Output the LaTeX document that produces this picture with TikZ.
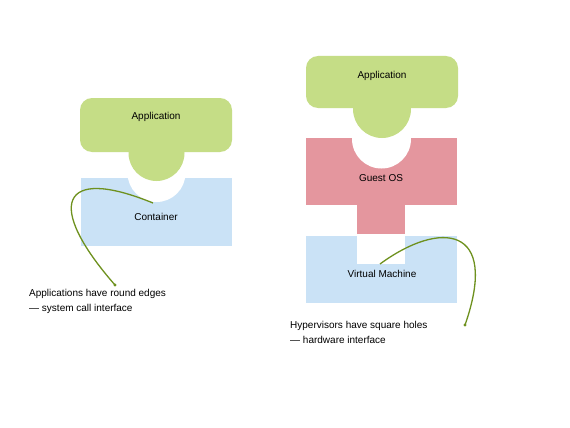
\documentclass[tikz,border=0pt]{standalone}
\usepackage{fontspec}
\setmainfont{Liberation Sans}
\definecolor{appgreen}{RGB}{197,221,134}
\definecolor{osred}{RGB}{228,150,158}
\definecolor{vmblue}{RGB}{202,226,246}
\definecolor{curvegreen}{RGB}{110,145,30}
\tikzset{
  lbl/.style={font=\fontsize{10}{12}\selectfont, inner sep=0pt, anchor=base},
  note/.style={font=\fontsize{10}{15}\selectfont, inner sep=0pt, anchor=north west, align=left},
  pointer/.style={draw=curvegreen, line width=1.3pt},
  tipdot/.style={fill=curvegreen}
}
\begin{document}
\begin{tikzpicture}[x=1pt,y=-1pt]
\useasboundingbox[fill=white] (0,0) rectangle (570,428);
% ---------- left: container ----------
\fill[vmblue] (81,178) rectangle (232,246);
\begin{scope}
  \clip (81,178) rectangle (232,246);
  \fill[white] (156.5,173) circle (29);
\end{scope}
\fill[appgreen, rounded corners=12pt] (80,98) rectangle (232,152);
\fill[appgreen] (156.5,153) circle (28);
\node[lbl] (appL) at (156,119.5) {Application};
\node[lbl] (cont) at (156,220) {Container};
\coordinate (cL0) at (153,203);
\coordinate (cL1) at (115,285);
\draw[pointer] (cL0) .. controls (60,165) and (45,205) .. (cL1);
\fill[tipdot] (cL1) circle (1.6);
\node[note] (noteL) at (29,289) {Applications have round edges\\— system call interface};
% ---------- right: virtual machine ----------
\fill[vmblue] (306,236) rectangle (457,303);
\fill[white] (357,236) rectangle (405,264);
\fill[osred] (306,138) rectangle (457,205);
\fill[osred] (357,204) rectangle (405,234);
\begin{scope}
  \clip (306,138) rectangle (457,205);
  \fill[white] (381.5,139) circle (29.5);
\end{scope}
\fill[appgreen, rounded corners=12pt] (306,56) rectangle (458,108);
\fill[appgreen] (382,109) circle (29);
\node[lbl] (appR) at (382,78.5) {Application};
\node[lbl] (guest) at (381,181) {Guest OS};
\node[lbl] (vm) at (382,277.5) {Virtual Machine};
\coordinate (cR0) at (380,264);
\coordinate (cR1) at (465,325);
\draw[pointer] (cR0) .. controls (440,220) and (500,225) .. (cR1);
\fill[tipdot] (cR1) circle (1.6);
\node[note] (noteR) at (290,321.5) {Hypervisors have square holes\\— hardware interface};
\end{tikzpicture}
\end{document}
